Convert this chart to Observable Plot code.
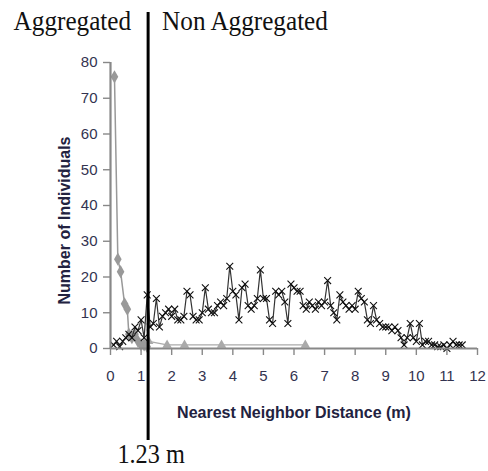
<!DOCTYPE html>
<html><head><meta charset="utf-8">
<script src="https://cdn.jsdelivr.net/npm/d3@7"></script>
<script src="https://cdn.jsdelivr.net/npm/@observablehq/plot@0.6"></script>
<style>body{margin:0;background:#fff}</style>
</head><body><div id="chart"></div>
<script>
const xTicks = [0,1,2,3,4,5,6,7,8,9,10,11,12];
const yTicks = [0,10,20,30,40,50,60,70,80];

// Non aggregated series (x markers)
const nonAggX = [0.1,0.2,0.3,0.4,0.5,0.6,0.7,0.8,0.9,1.0,1.1,1.2,1.3,1.4,1.5,1.6,1.7,1.8,1.9,2.0,
  2.1,2.2,2.3,2.4,2.5,2.6,2.7,2.8,2.9,3.0,3.1,3.2,3.3,3.4,3.5,3.6,3.7,3.8,3.9,4.0,
  4.1,4.2,4.3,4.4,4.5,4.6,4.7,4.8,4.9,5.0,5.1,5.2,5.3,5.4,5.5,5.6,5.7,5.8,5.9,6.0,
  6.1,6.2,6.3,6.4,6.5,6.6,6.7,6.8,6.9,7.0,7.1,7.2,7.3,7.4,7.5,7.6,7.7,7.8,7.9,8.0,
  8.1,8.2,8.3,8.4,8.5,8.6,8.7,8.8,8.9,9.0,9.1,9.2,9.3,9.4,9.5,9.6,9.7,9.8,9.9,10.0,
  10.1,10.2,10.3,10.4,10.5,10.6,10.7,10.8,10.9,11.0,11.1,11.2,11.3,11.4,11.5];
const nonAggY = [1,2,0.5,2,3,4,3,6,5,8,3,15,6,7,14,6,9,10,11,9,
  11,8,8,9,16,15,9,8,8,10,17,11,10,10,12,13,12,14,23,16,
  15,8,17,18,12,11,12,14,22,14,14,8,7,16,15,16,13,7,18,17,
  16,16,12,11,13,12,11,13,12,13,19,12,10,8,15,13,12,11,12,11,
  16,14,13,8,7,12,8,7,6,6,6,5,6,5,3,1,3,7,3,2,
  7,1,2,2,1,1,0.5,0.5,1,0,1,2,1,1,1];

// Aggregated series (diamonds)
const aggX = [0.13,0.24,0.33,0.46,0.55,0.6,0.7,0.8,0.9,1.0,1.1,1.2];
const aggY = [76,25,21.5,12.5,11,4,3,4,2,1,1,0.5];

// Third series (triangles)
const triX = [0.8,1.25,1.85,2.42,3.63,6.37];
const triY = [3,2,1,1,1,1];

const threshold = 1.23;

const nonAgg = nonAggX.map((x,i)=>({x, y: nonAggY[i]}));
const agg = aggX.map((x,i)=>({x, y: aggY[i]}));
const tri = triX.map((x,i)=>({x, y: triY[i]}));

const serif = "Liberation Serif, Times New Roman, serif";
const sans = "Liberation Sans, Arial, sans-serif";
const tickColor = "#333350";

const plot = Plot.plot({
  width: 488, height: 471,
  marginLeft: 110, marginRight: 11, marginTop: 62, marginBottom: 123,
  style: {fontFamily: sans, background: "#fff"},
  x: {domain: [0,12], axis: null},
  y: {domain: [0,80], axis: null},
  marks: [
    Plot.axisX({ticks: xTicks, tickSize: 7, tickFormat: () => "", stroke: "#888", label: null, strokeWidth: 1.4}),
    Plot.axisY({ticks: yTicks, tickSize: 7, tickFormat: () => "", stroke: "#888", label: null, strokeWidth: 1.4}),
    Plot.text(xTicks, {x: d => d, frameAnchor: "bottom", text: d => String(d), textAnchor: "middle", lineAnchor: "middle", dy: 28, fontSize: 15, fill: tickColor}),
    Plot.text(yTicks, {y: d => d, frameAnchor: "left", text: d => String(d), textAnchor: "end", lineAnchor: "middle", dx: -13, fontSize: 15, fill: tickColor}),
    Plot.line(tri, {x: "x", y: "y", stroke: "#aaa", strokeWidth: 1.2}),
    Plot.dot(tri, {x: "x", y: "y", symbol: "triangle", fill: "#aaa", r: 3.5}),
    Plot.line(agg, {x: "x", y: "y", stroke: "#999", strokeWidth: 1.5}),
    Plot.dot(agg, {x: "x", y: "y", symbol: "diamond", fill: "#999", r: 4}),
    Plot.line(nonAgg, {x: "x", y: "y", stroke: "#333", strokeWidth: 1.2}),
    Plot.dot(nonAgg, {x: "x", y: "y", symbol: "times", stroke: "#111", r: 3.2, strokeWidth: 1.1}),
    Plot.ruleY([0], {stroke: "#888", strokeWidth: 2.2}),
    Plot.ruleX([0], {stroke: "#888", strokeWidth: 2.2}),
    Plot.ruleX([threshold], {stroke: "#000", strokeWidth: 3, insetTop: -50, insetBottom: -92}),
    Plot.text(["Aggregated"], {x: [threshold], frameAnchor: "top", text: d => d, textAnchor: "end", lineAnchor: "bottom", dx: -17, dy: -33, fontSize: 28, fontFamily: serif, fill: "#111"}),
    Plot.text(["Non Aggregated"], {x: [threshold], frameAnchor: "top", text: d => d, textAnchor: "start", lineAnchor: "bottom", dx: 14, dy: -33, fontSize: 28, fontFamily: serif, fill: "#111"}),
    Plot.text([threshold + " m"], {x: [threshold], frameAnchor: "bottom", text: d => d, textAnchor: "middle", lineAnchor: "bottom", dx: 3, dy: 114, fontSize: 27, fontFamily: serif, fill: "#111"}),
    Plot.text(["Nearest Neighbor Distance (m)"], {frameAnchor: "bottom", text: d => d, textAnchor: "middle", lineAnchor: "bottom", dy: 69, fontSize: 16, fontWeight: "bold", fill: "#222240"}),
    Plot.text(["Number of Individuals"], {frameAnchor: "left", text: d => d, rotate: -90, textAnchor: "middle", lineAnchor: "middle", dx: -46, dy: 15, fontSize: 16, fontWeight: "bold", fill: "#222240"})
  ]
});

// horizontally condense the serif annotations to match the reference
d3.select(plot).selectAll("g").filter(function(){ return (this.getAttribute("font-family")||"").startsWith("Liberation Serif"); })
  .selectAll("text").each(function(){
    const t = this.getAttribute("transform") || "";
    this.setAttribute("transform", (t + " scale(0.9,1)").trim());
  });

document.getElementById("chart").appendChild(plot);
</script>
</body></html>
